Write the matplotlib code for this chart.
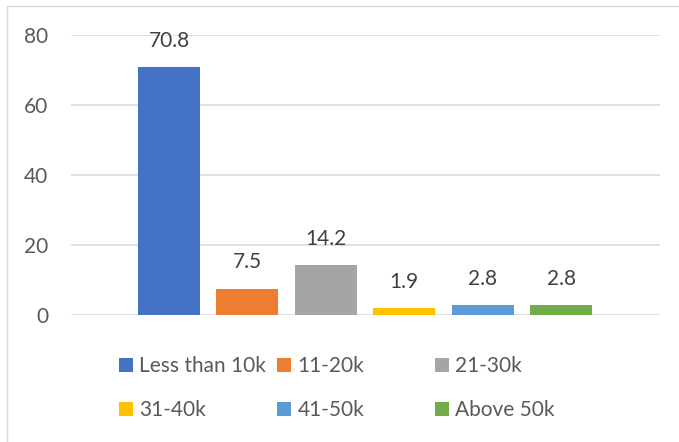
import matplotlib
matplotlib.use("Agg")
import matplotlib.pyplot as plt
from matplotlib.patches import Rectangle, Patch

categories = ["Less than 10k", "11-20k", "21-30k", "31-40k", "41-50k", "Above 50k"]
values = [70.8, 7.5, 14.2, 1.9, 2.8, 2.8]
colors = ["#4472C4", "#ED7D31", "#A5A5A5", "#FFC000", "#5B9BD5", "#70AD47"]
yticks = [0, 20, 40, 60, 80]

plt.rcParams["font.family"] = ["Lato", "DejaVu Sans"]
FS = 15

W, H = 679, 442
fig = plt.figure(figsize=(W / 100, H / 100), dpi=100)

# chart frame
fig.patches.append(Rectangle((7 / W, -0.1), 1.2, (H - 6) / H + 0.1, transform=fig.transFigure,
                             fill=False, edgecolor="#d9d9d9", linewidth=1.0))

ax = fig.add_axes([71 / W, (H - 315) / H, (660 - 71) / W, (315 - 35) / H])
x = list(range(len(categories)))
bars = ax.bar(x, values, width=0.79, color=colors, zorder=3)

ax.set_xlim(-1.25, 6.26)
ax.set_ylim(0, 80)
ax.set_yticks(yticks)
ax.yaxis.grid(True, color="#d9d9d9", linewidth=1.1, zorder=0)
ax.set_xticks([])
for s in ax.spines.values():
    s.set_visible(False)
ax.tick_params(axis="y", length=0, pad=16.5, labelsize=FS, labelcolor="#595959")

for xi, v in zip(x, values):
    ax.annotate(f"{v}", (xi, v), xytext=(0, 19), textcoords="offset points",
                ha="center", va="center", fontsize=FS, color="#404040")

# legend laid out in two rows of three
legend_pos = [(119, 366), (277, 366), (435, 366), (119, 410), (277, 410), (435, 410)]
for cat, col, (px, py) in zip(categories, colors, legend_pos):
    lg = fig.legend([Patch(facecolor=col, edgecolor="none")], [cat],
                    loc="center left", bbox_to_anchor=(px / W, 1 - py / H),
                    frameon=False, fontsize=FS, handlelength=0.68, handleheight=0.68,
                    handletextpad=0.3, borderpad=0, borderaxespad=0)
    for t in lg.get_texts():
        t.set_color("#595959")

fig.savefig("out.png", dpi=100)
